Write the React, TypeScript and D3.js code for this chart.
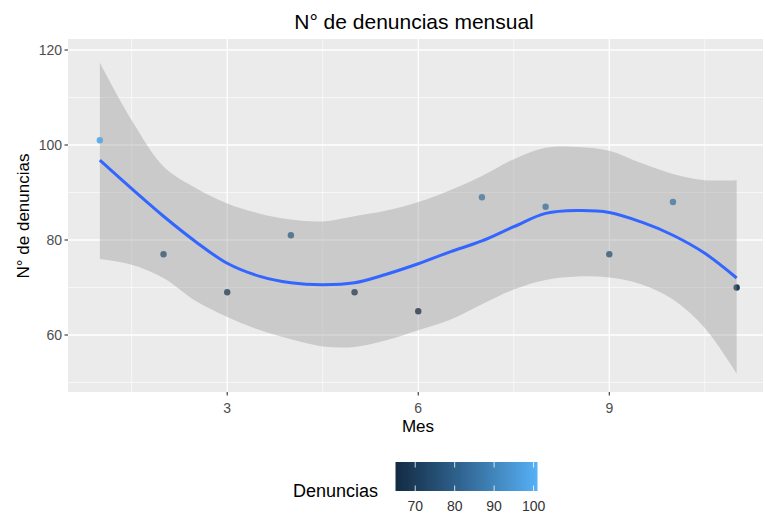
import React from 'react';
import * as d3 from 'd3';

// monthly counts
const months = [1, 2, 3, 4, 5, 6, 7, 8, 9, 10, 11];
const denuncias = [101, 77, 69, 81, 69, 65, 89, 87, 77, 88, 70];

// loess fit + confidence band
const smoothX = [1, 1.5, 2, 2.5, 3, 3.5, 4, 4.5, 5, 5.5, 6, 6.5, 7, 7.5, 8, 8.5, 9, 9.5, 10, 10.5, 11];
const smoothFit = [96.8, 90.8, 85.0, 79.7, 75.1, 72.4, 71.0, 70.6, 71.0, 72.8, 75.0, 77.5, 79.8, 82.8, 85.6, 86.2, 85.8, 83.8, 81.0, 77.2, 72.0];
const smoothLower = [76.0, 74.8, 72.0, 67.2, 63.8, 61.1, 59.1, 57.6, 57.5, 58.9, 61.0, 63.2, 66.5, 69.6, 71.6, 72.3, 72.1, 70.7, 67.5, 61.5, 51.9];
const smoothUpper = [117.3, 105.2, 95.5, 91.0, 87.7, 85.6, 84.3, 83.9, 85.0, 86.2, 88.0, 90.5, 93.5, 97.0, 99.4, 99.6, 98.8, 96.2, 93.9, 92.6, 92.6];

const xTicks = [3, 6, 9];
const xMinor = [1.5, 4.5, 7.5, 10.5];
const yTicks = [60, 80, 100, 120];
const yMinor = [50, 70, 90, 110];
const legendTicks = [70, 80, 90, 100];

const font = '"Liberation Sans", Arial, sans-serif';

export default function App() {
  const W = 766, H = 517;
  const pL = 68, pR = 763, pT = 39, pB = 392;

  const x = d3.scaleLinear().domain([0.5, 11.5]).range([68, 768.5]);
  const y = d3.scaleLinear().domain([60, 120]).range([335, 50]);
  const color = d3.scaleLinear<string>()
    .domain([d3.min(denuncias)!, d3.max(denuncias)!])
    .range(['#132B43', '#56B1F7'])
    .interpolate(d3.interpolateLab);

  const band = d3.area<number>()
    .x((_, i) => x(smoothX[i]))
    .y0((_, i) => y(smoothLower[i]))
    .y1((_, i) => y(smoothUpper[i]))
    .curve(d3.curveCatmullRom);
  const fit = d3.line<number>()
    .x((_, i) => x(smoothX[i]))
    .y((d) => y(d))
    .curve(d3.curveCatmullRom);

  // legend bar
  const lg = d3.scaleLinear().domain([d3.min(denuncias)!, d3.max(denuncias)!]).range([395.5, 537.5]);
  const barTop = 462, barBot = 491;
  const stops = d3.range(0, 1.0001, 0.1);

  return (
    <svg width={W} height={H} style={{ position: 'absolute', left: 0, top: 0, fontFamily: font }}>
      <rect width={W} height={H} fill="#fff" />
      <defs>
        <clipPath id="panel"><rect x={pL} y={pT} width={pR - pL} height={pB - pT} /></clipPath>
        <linearGradient id="grad" x1="0" x2="1" y1="0" y2="0">
          {stops.map((t) => (
            <stop key={t} offset={t} stopColor={color(lg.domain()[0] + t * (lg.domain()[1] - lg.domain()[0]))} />
          ))}
        </linearGradient>
      </defs>

      <rect x={pL} y={pT} width={pR - pL} height={pB - pT} fill="#EBEBEB" />
      <g clipPath="url(#panel)">
        {yMinor.map((v) => (
          <line key={'ym' + v} x1={pL} x2={pR} y1={y(v)} y2={y(v)} stroke="#fff" strokeWidth={0.6} />
        ))}
        {xMinor.map((v) => (
          <line key={'xm' + v} x1={x(v)} x2={x(v)} y1={pT} y2={pB} stroke="#fff" strokeWidth={0.6} />
        ))}
        {yTicks.map((v) => (
          <line key={'y' + v} x1={pL} x2={pR} y1={y(v)} y2={y(v)} stroke="#fff" strokeWidth={1.3} />
        ))}
        {xTicks.map((v) => (
          <line key={'x' + v} x1={x(v)} x2={x(v)} y1={pT} y2={pB} stroke="#fff" strokeWidth={1.3} />
        ))}

        {months.map((m, i) => (
          <circle key={m} cx={x(m)} cy={y(denuncias[i])} r={3.2} fill={color(denuncias[i])} />
        ))}
        <path d={band(smoothX)!} fill="#999999" fillOpacity={0.4} />
        <path d={fit(smoothFit)!} fill="none" stroke="#3366FF" strokeWidth={3} />
      </g>

      {/* y axis */}
      {yTicks.map((v) => (
        <g key={'yt' + v}>
          <line x1={64.5} x2={pL} y1={y(v)} y2={y(v)} stroke="#333" strokeWidth={1.1} />
          <text x={62} y={y(v)} dy="0.36em" textAnchor="end" fontSize={14} fill="#4D4D4D">{v}</text>
        </g>
      ))}
      {/* x axis */}
      {xTicks.map((v) => (
        <g key={'xt' + v}>
          <line x1={x(v)} x2={x(v)} y1={pB} y2={pB + 3.5} stroke="#333" strokeWidth={1.1} />
          <text x={x(v)} y={413} textAnchor="middle" fontSize={14} fill="#4D4D4D">{v}</text>
        </g>
      ))}

      <text x={418} y={432} textAnchor="middle" fontSize={17} fill="#000">Mes</text>
      <text transform="translate(29,216) rotate(-90)" textAnchor="middle" fontSize={17} fill="#000">N° de denuncias</text>
      <text x={414} y={29} textAnchor="middle" fontSize={21} fill="#000">N° de denuncias mensual</text>

      {/* legend */}
      <text x={293} y={497} fontSize={18} fill="#000">Denuncias</text>
      <rect x={lg.range()[0]} y={barTop} width={lg.range()[1] - lg.range()[0]} height={barBot - barTop} fill="url(#grad)" />
      {legendTicks.map((v) => (
        <g key={'lt' + v}>
          <line x1={lg(v)} x2={lg(v)} y1={barTop} y2={barTop + 5.5} stroke="#fff" strokeOpacity={0.8} strokeWidth={1} />
          <line x1={lg(v)} x2={lg(v)} y1={barBot - 5.5} y2={barBot} stroke="#fff" strokeOpacity={0.8} strokeWidth={1} />
          <text x={lg(v)} y={511} textAnchor="middle" fontSize={14} fill="#333">{v}</text>
        </g>
      ))}
    </svg>
  );
}
